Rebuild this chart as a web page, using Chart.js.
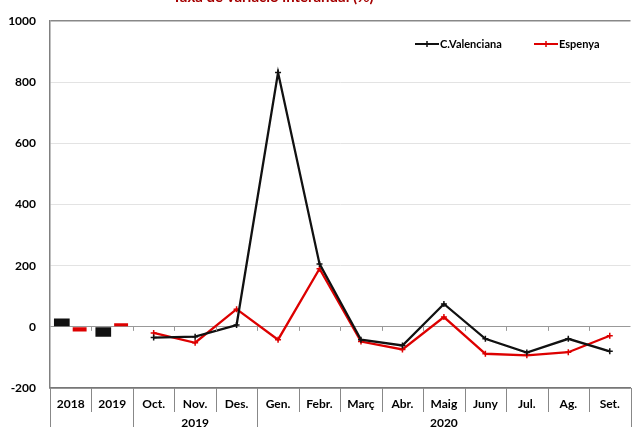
<!DOCTYPE html>
<html lang="ca">
<head>
<meta charset="UTF-8">
<title>Taxa de variació interanual (%)</title>
<script src="https://cdn.jsdelivr.net/npm/chart.js"></script>
<style>
    body { margin: 0; padding: 0; background: #fff; }
    #wrap { width: 636px; height: 427px; }
</style>
</head>
<body>
<div id="wrap"><canvas id="chart" width="636" height="427"></canvas></div>
<script>
    const categories = ['2018', '2019', 'Oct.', 'Nov.', 'Des.', 'Gen.', 'Febr.', 'Març', 'Abr.', 'Maig', 'Juny', 'Jul.', 'Ag.', 'Set.'];
    const groups = [
        { label: '', from: 0, to: 1 },
        { label: '2019', from: 2, to: 4 },
        { label: '2020', from: 5, to: 13 },
    ];
    const cvBars = [27, -32, null, null, null, null, null, null, null, null, null, null, null, null];
    const esBars = [-15, 12, null, null, null, null, null, null, null, null, null, null, null, null];
    const cvLine = [null, null, -35, -32, 6, 832, 206, -42, -61, 75, -39, -84, -39, -80];
    const esLine = [null, null, -20, -52, 58, -42, 190, -48, -74, 32, -88, -93, -83, -29];
    const yTicks = [-200, 0, 200, 400, 600, 800, 1000];

    const BLACK = '#111111';
    const RED = '#dd0000';
    const FONT = 'Lato, "Open Sans", sans-serif';

    // title, legend, category table under the plot
    const decor = {
        id: 'decor',
        afterDraw(chart) {
            const ctx = chart.ctx;
            const x = chart.scales.x;
            const y = chart.scales.y;
            const area = chart.chartArea;
            const w = (area.right - area.left) / categories.length;
            const edge = (i) => area.left + i * w;
            ctx.save();

            // title, mostly cut by the top edge
            ctx.fillStyle = '#a50000';
            ctx.font = 'bold 15px ' + FONT;
            ctx.textAlign = 'center';
            ctx.textBaseline = 'middle';
            ctx.fillText('Taxa de variació interanual (%)', 273, -3);

            // small ticks on the zero line
            const y0 = y.getPixelForValue(0);
            ctx.strokeStyle = '#999';
            ctx.lineWidth = 1;
            for (let i = 1; i < categories.length; i++) {
                const px = Math.round(edge(i)) + 0.5;
                ctx.beginPath();
                ctx.moveTo(px, y0);
                ctx.lineTo(px, y0 + 4);
                ctx.stroke();
            }

            // separators under the plot
            const groupEdges = [0, 2, 5, categories.length];
            ctx.strokeStyle = '#888';
            for (let i = 0; i <= categories.length; i++) {
                const px = Math.round(edge(i)) + 0.5;
                ctx.beginPath();
                ctx.moveTo(px, area.bottom);
                ctx.lineTo(px, groupEdges.includes(i) ? chart.height : area.bottom + 24);
                ctx.stroke();
            }

            // category labels
            ctx.fillStyle = '#000';
            ctx.font = 'bold 12px ' + FONT;
            categories.forEach((c, i) => {
                ctx.fillText(c, x.getPixelForValue(i), area.bottom + 16);
            });
            groups.forEach((g) => {
                if (!g.label) return;
                const cx = (edge(g.from) + edge(g.to + 1)) / 2;
                ctx.fillText(g.label, cx, area.bottom + 35);
            });

            // legend
            const items = [
                { text: 'C.Valenciana', color: BLACK, x: 415 },
                { text: 'Espenya', color: RED, x: 534 },
            ];
            const ly = 44;
            ctx.font = 'bold 11px ' + FONT;
            items.forEach((it) => {
                ctx.strokeStyle = it.color;
                ctx.lineWidth = 2;
                ctx.beginPath();
                ctx.moveTo(it.x, ly);
                ctx.lineTo(it.x + 24, ly);
                ctx.stroke();
                ctx.lineWidth = 1.5;
                ctx.beginPath();
                ctx.moveTo(it.x + 12, ly - 3);
                ctx.lineTo(it.x + 12, ly + 3);
                ctx.stroke();
                ctx.fillStyle = '#000';
                ctx.textAlign = 'left';
                ctx.fillText(it.text, it.x + 25, ly);
            });
            ctx.restore();
        }
    };

    new Chart(document.getElementById('chart'), {
        data: {
            labels: categories,
            datasets: [
                { type: 'bar', label: 'C.Valenciana', data: cvBars, backgroundColor: BLACK,
                  categoryPercentage: 0.86, barPercentage: 0.88 },
                { type: 'bar', label: 'Espenya', data: esBars, backgroundColor: RED,
                  categoryPercentage: 0.86, barPercentage: 0.78 },
                { type: 'line', label: 'C.Valenciana', data: cvLine, borderColor: BLACK, borderWidth: 2.3,
                  pointStyle: 'cross', pointRadius: 3, pointBorderColor: BLACK, pointBorderWidth: 1.5,
                  tension: 0, spanGaps: false },
                { type: 'line', label: 'Espenya', data: esLine, borderColor: RED, borderWidth: 2.3,
                  pointStyle: 'cross', pointRadius: 3, pointBorderColor: RED, pointBorderWidth: 1.5,
                  tension: 0, spanGaps: false },
            ],
        },
        options: {
            responsive: false,
            animation: false,
            layout: { padding: { top: 17, right: -3, left: 0, bottom: 0 } },
            plugins: { legend: { display: false }, tooltip: { enabled: false } },
            scales: {
                x: {
                    type: 'category',
                    offset: true,
                    grid: { display: false },
                    border: { display: true, color: '#777', width: 1.5 },
                    ticks: { display: false },
                    afterFit: (s) => { s.height = 39; },
                },
                y: {
                    min: -200,
                    max: 1000,
                    afterBuildTicks: (s) => { s.ticks = yTicks.map((v) => ({ value: v })); },
                    grid: {
                        drawTicks: false,
                        color: (c) => {
                            const v = c.tick && c.tick.value;
                            if (v === 0) return '#999';
                            if (v === 1000) return '#888';
                            if (v === -200) return '#777';
                            return '#e3e3e3';
                        },
                        lineWidth: (c) => (c.tick && (c.tick.value === 1000 || c.tick.value === -200) ? 1.5 : 1),
                    },
                    border: { color: '#808080', width: 1.5 },
                    ticks: {
                        color: '#000',
                        padding: 14,
                        font: { family: FONT, size: 12, weight: 'bold' },
                        callback: (v) => String(v),
                    },
                    afterFit: (s) => { s.width = 50; },
                },
            },
        },
        plugins: [decor],
    });
</script>
</body>
</html>
